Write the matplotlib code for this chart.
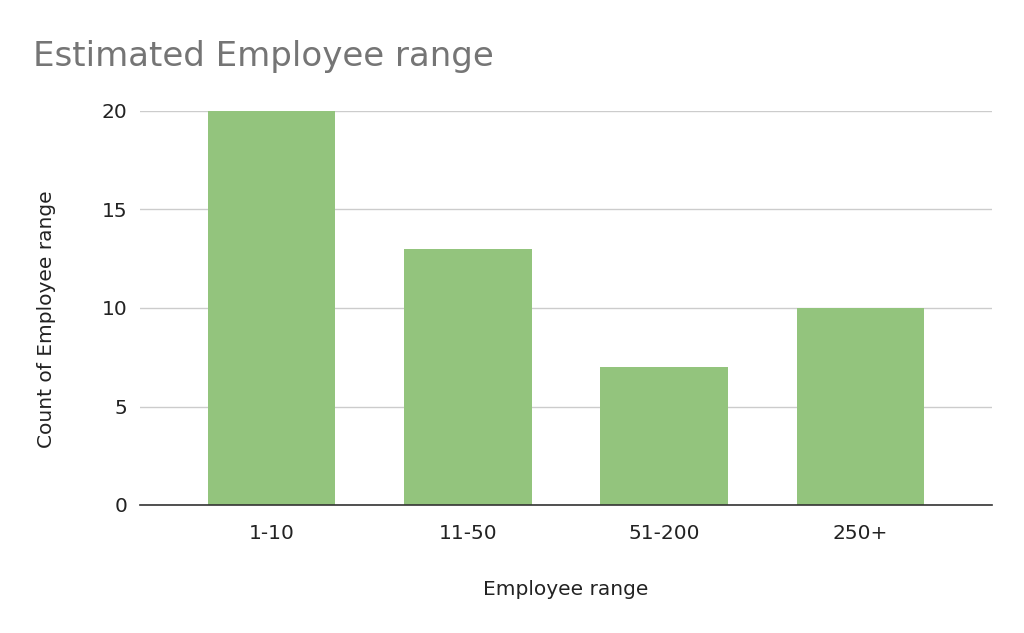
import matplotlib
matplotlib.use("Agg")
import matplotlib.pyplot as plt

categories = ["1-10", "11-50", "51-200", "250+"]
counts = [20, 13, 7, 10]
yticks = [0, 5, 10, 15, 20]

plt.rcParams['font.family'] = 'sans-serif'
plt.rcParams['font.sans-serif'] = ['DejaVu Sans']

fig = plt.figure(figsize=(10.24, 6.33), dpi=100)
ax = fig.add_axes([140/1024, 1-505/633, 852/1024, 394/633])

x = list(range(len(categories)))
ax.bar(x, counts, width=0.65, color="#93c47d", zorder=3)
ax.set_xlim(-0.671, 3.671)
ax.set_ylim(0, 20)
ax.set_yticks(yticks)
ax.set_xticks(x)
ax.set_xticklabels(categories)
ax.yaxis.grid(True, color="#cccccc", linewidth=1, zorder=0)
for s in ["top", "right", "left"]:
    ax.spines[s].set_visible(False)
ax.spines["bottom"].set_color("#333333")
ax.spines["bottom"].set_linewidth(1.2)
ax.spines["bottom"].set_zorder(4)
ax.tick_params(axis="both", length=0, labelsize=14.5, colors="#222222")
ax.tick_params(axis="x", pad=14)
ax.tick_params(axis="y", pad=9)
ax.set_xlabel("Employee range", fontsize=14.5, color="#222222", labelpad=26)
ax.set_ylabel("Count of Employee range", fontsize=14.5, color="#222222")
ax.yaxis.set_label_coords(-0.0986, 0.471)
fig.text(33/1024, 1-66/633, "Estimated Employee range", fontsize=24.5, color="#757575", ha="left", va="baseline")

fig.savefig("out.png", dpi=100)
